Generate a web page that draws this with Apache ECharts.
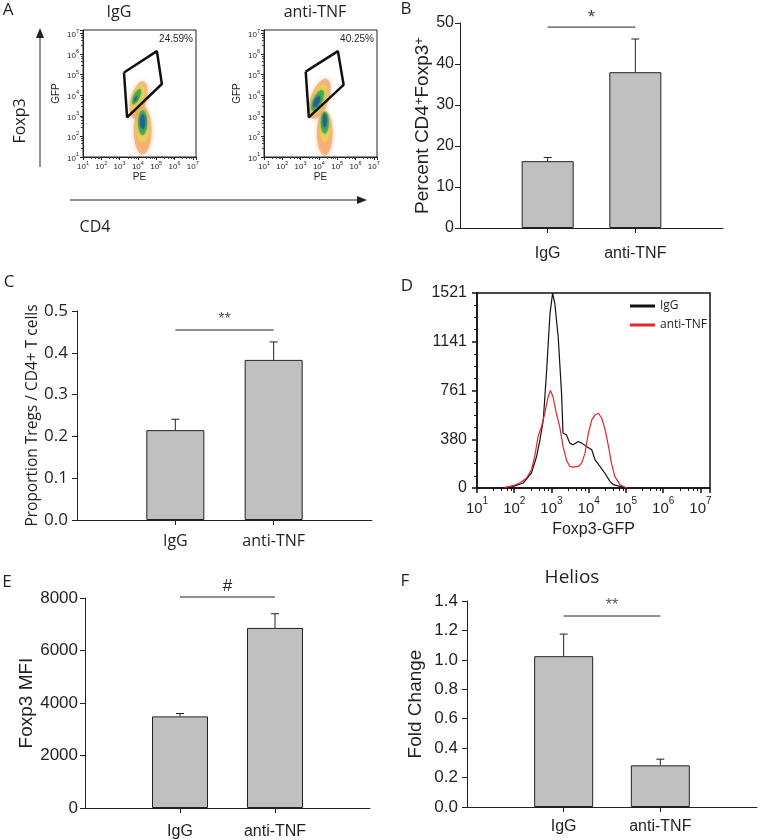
<!DOCTYPE html>
<html><head><meta charset="utf-8">
<script src="https://cdn.jsdelivr.net/npm/echarts@6/dist/echarts.min.js"></script>
<style>html,body{margin:0;padding:0;background:#fff}#c{width:760px;height:840px}</style>
</head><body><div id="c"></div>
<script>
// ---------------- data ----------------
const groups = ['IgG', 'anti-TNF'];
const pctValues = [16.3, 38.0];
const pctErrors = [0.9, 8.1];
const propValues = [0.215, 0.383];
const propErrors = [0.026, 0.043];
const mfiValues = [3490, 6860];
const mfiErrors = [110, 540];
const heliosValues = [1.025, 0.283];
const heliosErrors = [0.15, 0.042];
const sigLevels = { B: 49.0, C: 0.4545, E: 8038, F: 1.298 };
const sigLabels = { B: '*', C: '**', E: '#', F: '**' };

// Panel D histograms: log10(Foxp3-GFP) and event counts
const histIgGLog = [1.79,1.97,2.24,2.46,2.60,2.69,2.78,2.87,2.96,3.03,3.09,3.18,3.27,3.31,3.40,3.49,3.58,3.72,3.81,3.94,4.08,4.17,4.30,4.43,4.57,4.66,4.84,5.02];
const histIgGCount = [0,13,39,117,246,376,531,919,1360,1521,1437,1178,738,427,415,350,337,363,350,324,298,220,168,117,52,26,13,0];
const histAntiLog = [1.74,1.79,1.97,2.15,2.33,2.46,2.55,2.64,2.73,2.82,2.91,2.97,3.04,3.13,3.22,3.31,3.40,3.49,3.58,3.72,3.81,3.90,3.99,4.08,4.17,4.26,4.35,4.44,4.53,4.61,4.70,4.84,5.02];
const histAntiCount = [5,8,18,39,78,142,246,402,479,583,712,761,712,583,479,324,220,168,163,168,194,272,427,531,570,583,544,453,324,194,91,26,0];

// Panel A: gates (log10 PE, log10 GFP) and population density centres
const gateIgG = [[3.24,5.11],[5.04,6.15],[5.31,4.55],[3.41,2.93]];
const gateAnti = [[3.28,5.15],[5.04,6.15],[5.35,4.51],[3.45,2.93]];
const gatePercents = ['24.59%', '40.25%'];
const popIgGLog = [[4.04,3.78],[3.99,3.88],[3.93,3.93],[3.88,3.83],[4.26,2.29],[4.26,2.53],[4.26,2.68],[4.26,2.72]];
const popAntiLog = [[4.04,3.83],[3.99,3.79],[3.93,3.74],[3.88,3.69],[4.32,2.14],[4.32,2.48],[4.32,2.68],[4.32,2.77]];

// ---------------- styles ----------------
const TXT = '#231f20';
const ARIAL = 'Liberation Sans, Arial, sans-serif';
const OPEN = 'Open Sans, sans-serif';
const BAR_FILL = '#c0c0c0';
const layerColors = ['rgba(244,150,80,0.75)', 'rgba(232,214,80,0.95)', '#3fa455', '#1e5c9a'];
const blobShapeIgG = [[16,38,-15],[11,28,-18],[6,17,-25],[2,6,-25],[18,48,0],[13,34,0],[9,25,0],[5,15,0]];
const blobShapeAnti = [[18,42,-20],[13,32,-20],[9,23,-25],[5,12,-25],[16,44,0],[11,31,0],[8,22,0],[4,14,0]];

const pow10 = e => Math.pow(10, e);
function powLabel(v) {
  const e = Math.log10(v);
  if (Math.abs(e - Math.round(e)) > 1e-6) return '';
  return '{b|10}{s|' + Math.round(e) + '}';
}

const grids = [
  { left: 83, top: 30, width: 113, height: 127, show: true, borderColor: '#222', borderWidth: 1 },
  { left: 264, top: 30, width: 113, height: 127, show: true, borderColor: '#222', borderWidth: 1 },
  { left: 460, top: 23, width: 263, height: 205 },
  { left: 77, top: 311, width: 295, height: 209 },
  { left: 477, top: 293, width: 233, height: 195, show: true, borderColor: '#111', borderWidth: 1.5 },
  { left: 85, top: 598, width: 285, height: 211 },
  { left: 467, top: 601, width: 293, height: 206 }
];

function flowAxis(gi, dim) {
  const isX = dim === 'x';
  return {
    type: 'log', logBase: 10, gridIndex: gi, min: 10, max: 1.5e7,
    name: isX ? 'PE' : 'GFP', nameLocation: 'middle', nameGap: isX ? 15 : 22,
    nameTextStyle: { fontFamily: ARIAL, fontSize: 10, color: TXT },
    axisLine: { show: true, lineStyle: { color: '#222', width: 1 } },
    axisTick: { show: true, length: 3, lineStyle: { color: '#222' } },
    minorTick: { show: true, length: 2, splitNumber: 5, lineStyle: { color: '#444' } },
    splitLine: { show: false }, minorSplitLine: { show: false },
    axisLabel: {
      formatter: powLabel, margin: isX ? 3 : 4, color: TXT,
      rich: {
        b: { fontFamily: ARIAL, fontSize: 8, lineHeight: 11, verticalAlign: 'bottom', color: TXT },
        s: { fontFamily: ARIAL, fontSize: 5.5, lineHeight: 6, verticalAlign: 'top', color: TXT }
      }
    }
  };
}

function barXAxis(gi, font, size, margin) {
  return {
    type: 'category', gridIndex: gi, data: ['', ...groups, ''], boundaryGap: false,
    axisLine: { show: true, lineStyle: { color: '#222', width: 1 } },
    axisTick: { show: true, interval: (i) => i === 1 || i === 2, length: 5, lineStyle: { color: '#222' } },
    axisLabel: { interval: 0, fontFamily: font, fontSize: size, color: TXT, margin: margin },
    splitLine: { show: false }
  };
}

function barYAxis(gi, max, interval, dec, name, nameGap, font, tickSize, nameSize, margin, rich) {
  return {
    type: 'value', gridIndex: gi, min: 0, max: max, interval: interval,
    axisLine: { show: true, lineStyle: { color: '#222', width: 1 } },
    axisTick: { show: true, length: 5, lineStyle: { color: '#222' } },
    splitLine: { show: false },
    axisLabel: { formatter: v => v.toFixed(dec), fontFamily: font, fontSize: tickSize, color: TXT, margin: margin },
    name: name, nameLocation: 'middle', nameRotate: 90, nameGap: nameGap,
    nameTextStyle: { fontFamily: font, fontSize: nameSize, color: TXT, rich: rich || {} }
  };
}

function barSeries(ax, values, width) {
  return {
    type: 'bar', xAxisIndex: ax, yAxisIndex: ax, barWidth: width, silent: true,
    data: groups.map((g, i) => [g, values[i]]),
    itemStyle: { color: BAR_FILL, borderColor: '#222', borderWidth: 1 }, z: 2
  };
}

function errSeries(ax, values, errors) {
  return {
    type: 'custom', xAxisIndex: ax, yAxisIndex: ax, silent: true, z: 3,
    data: groups.map((g, i) => [g, values[i], errors[i]]),
    encode: { x: 0, y: 1 },
    renderItem: function (params, api) {
      const xi = api.value(0);
      const base = api.coord([xi, api.value(1)]);
      const top = api.coord([xi, api.value(1) + api.value(2)]);
      const cap = 4;
      return { type: 'group', children: [
        { type: 'line', shape: { x1: base[0], y1: base[1], x2: top[0], y2: top[1] }, style: { stroke: '#222', lineWidth: 1 } },
        { type: 'line', shape: { x1: top[0] - cap, y1: top[1], x2: top[0] + cap, y2: top[1] }, style: { stroke: '#222', lineWidth: 1 } }
      ] };
    }
  };
}

function sigSeries(ax, level, label, font, size, color, offset) {
  return {
    type: 'custom', xAxisIndex: ax, yAxisIndex: ax, silent: true, z: 3, clip: false,
    data: [[groups[0], level]],
    encode: { x: 0, y: 1 },
    renderItem: function (params, api) {
      const i = api.value(0);
      const p1 = api.coord([i, api.value(1)]);
      const p2 = api.coord([i + 1, api.value(1)]);
      return { type: 'group', children: [
        { type: 'line', shape: { x1: p1[0], y1: p1[1], x2: p2[0], y2: p2[1] }, style: { stroke: '#222', lineWidth: 1 } },
        { type: 'text', x: (p1[0] + p2[0]) / 2, y: p1[1] - offset,
          style: { text: label, align: 'center', verticalAlign: 'middle', fontFamily: font, fontSize: size, fill: color } }
      ] };
    }
  };
}

function blobSeries(ax, centres, shapes) {
  return {
    type: 'scatter', xAxisIndex: ax, yAxisIndex: ax, silent: true, z: 2,
    data: centres.map((c, i) => ({
      value: [pow10(c[0]), pow10(c[1])],
      symbolSize: [shapes[i][0], shapes[i][1]],
      symbolRotate: shapes[i][2],
      itemStyle: { color: layerColors[i % 4], shadowBlur: i % 4 === 0 ? 5 : 3, shadowColor: layerColors[i % 4] }
    }))
  };
}

function gateSeries(ax, gate) {
  const pts = gate.concat([gate[0]]).map(p => [pow10(p[0]), pow10(p[1])]);
  return { type: 'line', xAxisIndex: ax, yAxisIndex: ax, data: pts, symbol: 'none', silent: true, z: 4,
    lineStyle: { color: '#111', width: 2.5 } };
}

const xAxes = [
  flowAxis(0, 'x'), flowAxis(1, 'x'),
  barXAxis(2, ARIAL, 16, 18),
  barXAxis(3, OPEN, 16, 13),
  {
    type: 'log', logBase: 10, gridIndex: 4, min: 10, max: 1.8e7,
    name: 'Foxp3-GFP', nameLocation: 'middle', nameGap: 34,
    nameTextStyle: { fontFamily: ARIAL, fontSize: 16, color: TXT },
    axisLine: { show: true, lineStyle: { color: '#111', width: 1.5 } },
    axisTick: { show: true, length: 5, lineStyle: { color: '#111', width: 1.5 } },
    minorTick: { show: true, length: 3, splitNumber: 5, lineStyle: { color: '#111' } },
    splitLine: { show: false }, minorSplitLine: { show: false },
    axisLabel: {
      formatter: powLabel, margin: 8,
      rich: {
        b: { fontFamily: ARIAL, fontSize: 15, lineHeight: 20, verticalAlign: 'bottom', color: TXT },
        s: { fontFamily: ARIAL, fontSize: 10, lineHeight: 10, verticalAlign: 'top', color: TXT }
      }
    }
  },
  barXAxis(5, ARIAL, 16, 16),
  barXAxis(6, ARIAL, 16, 12)
];

const yAxes = [
  flowAxis(0, 'y'), flowAxis(1, 'y'),
  barYAxis(2, 50, 10, 0, 'Percent CD4{s|+}Foxp3{s|+}', 28, ARIAL, 16, 19, 6,
    { s: { fontFamily: ARIAL, fontSize: 13, lineHeight: 12, verticalAlign: 'top', color: TXT } }),
  barYAxis(3, 0.5, 0.1, 1, 'Proportion Tregs / CD4+ T cells', 36, OPEN, 17, 15.5, 9),
  {
    type: 'value', gridIndex: 4, min: 0, max: 1521, interval: 380.25,
    axisLine: { show: true, lineStyle: { color: '#111', width: 1.5 } },
    axisTick: { show: true, length: 5, lineStyle: { color: '#111', width: 1.5 } },
    minorTick: { show: true, length: 3, splitNumber: 4, lineStyle: { color: '#111' } },
    splitLine: { show: false }, minorSplitLine: { show: false },
    axisLabel: { formatter: v => String(Math.round(v)), fontFamily: ARIAL, fontSize: 16, color: TXT, margin: 10 }
  },
  barYAxis(5, 8000, 2000, 0, 'Foxp3 MFI', 46, ARIAL, 17, 19, 7),
  barYAxis(6, 1.4, 0.2, 1, 'Fold Change', 42, ARIAL, 17, 19, 9)
];

const series = [
  blobSeries(0, popIgGLog, blobShapeIgG), gateSeries(0, gateIgG),
  blobSeries(1, popAntiLog, blobShapeAnti), gateSeries(1, gateAnti),
  barSeries(2, pctValues, 52), errSeries(2, pctValues, pctErrors),
  sigSeries(2, sigLevels.B, sigLabels.B, ARIAL, 19, '#444', 9),
  barSeries(3, propValues, 58), errSeries(3, propValues, propErrors),
  sigSeries(3, sigLevels.C, sigLabels.C, ARIAL, 16, '#555', 10),
  { type: 'line', name: 'IgG', xAxisIndex: 4, yAxisIndex: 4, symbol: 'none', silent: true, z: 3,
    data: histIgGLog.map((e, i) => [pow10(e), histIgGCount[i]]), lineStyle: { color: '#111', width: 1.2 }, itemStyle: { color: '#111' } },
  { type: 'line', name: 'anti-TNF', xAxisIndex: 4, yAxisIndex: 4, symbol: 'none', silent: true, z: 3,
    data: histAntiLog.map((e, i) => [pow10(e), histAntiCount[i]]), lineStyle: { color: '#e3262b', width: 1.2 }, itemStyle: { color: '#e3262b' } },
  barSeries(5, mfiValues, 56), errSeries(5, mfiValues, mfiErrors),
  sigSeries(5, sigLevels.E, sigLabels.E, ARIAL, 17, TXT, 11),
  barSeries(6, heliosValues, 59), errSeries(6, heliosValues, heliosErrors),
  sigSeries(6, sigLevels.F, sigLabels.F, ARIAL, 16, '#555', 10)
];

function txt(x, y, text, font, size) {
  return { type: 'text', x: x, y: y, silent: true,
    style: { text: text, fontFamily: font, fontSize: size, fill: TXT, align: 'center', verticalAlign: 'middle' } };
}
function rtxt(x, y, text, font, size) {
  return { type: 'text', x: x, y: y, rotation: Math.PI / 2, silent: true,
    style: { text: text, fontFamily: font, fontSize: size, fill: TXT, align: 'center', verticalAlign: 'middle' } };
}

const graphics = [
  txt(8, 10, 'A', OPEN, 17), txt(406, 9, 'B', OPEN, 17), txt(9, 282, 'C', OPEN, 17),
  txt(407, 286, 'D', OPEN, 17), txt(7, 582, 'E', OPEN, 17), txt(405, 581, 'F', OPEN, 17),
  txt(119, 12, 'IgG', OPEN, 16), txt(315, 12, 'anti-TNF', OPEN, 16),
  txt(572, 578, 'Helios', OPEN, 19),
  rtxt(20, 121, 'Foxp3', OPEN, 16),
  txt(95, 227, 'CD4', OPEN, 16),
  { type: 'text', x: 193, y: 39, silent: true, style: { text: gatePercents[0], fontFamily: ARIAL, fontSize: 10, fill: TXT, align: 'right', verticalAlign: 'middle' } },
  { type: 'text', x: 374, y: 39, silent: true, style: { text: gatePercents[1], fontFamily: ARIAL, fontSize: 10, fill: TXT, align: 'right', verticalAlign: 'middle' } },
  { type: 'line', silent: true, shape: { x1: 40, y1: 167, x2: 40, y2: 36 }, style: { stroke: '#222', lineWidth: 1 } },
  { type: 'polygon', silent: true, shape: { points: [[40, 28], [36, 38], [44, 38]] }, style: { fill: '#222' } },
  { type: 'line', silent: true, shape: { x1: 70, y1: 200, x2: 359, y2: 200 }, style: { stroke: '#222', lineWidth: 1 } },
  { type: 'polygon', silent: true, shape: { points: [[367, 200], [357, 196], [357, 204]] }, style: { fill: '#222' } }
];

const option = {
  animation: false,
  backgroundColor: '#fff',
  grid: grids,
  xAxis: xAxes,
  yAxis: yAxes,
  legend: {
    data: ['IgG', 'anti-TNF'], left: 625, top: 295, orient: 'vertical', itemWidth: 25, itemHeight: 3, itemGap: 7,
    icon: 'rect', selectedMode: false, textStyle: { fontFamily: OPEN, fontSize: 12, color: TXT }
  },
  series: series,
  graphic: graphics
};
const chart = echarts.init(document.getElementById('c'));
chart.setOption(option);
</script>
</body></html>
